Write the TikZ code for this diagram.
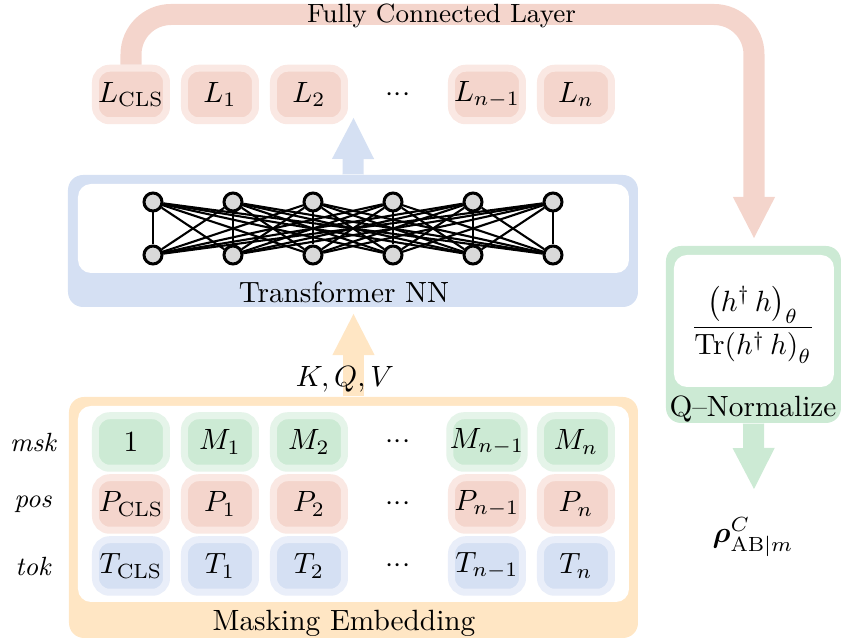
\documentclass[tikz,border=0pt]{standalone}
\usepackage{amsmath}
\usepackage{bm}
\usetikzlibrary{arrows.meta}
\newdimen\pxu
\pxu=0.3413pt
\definecolor{pinkD}{HTML}{F4D5CC}
\definecolor{pinkL}{HTML}{FAE8E3}
\definecolor{greenD}{HTML}{CCEAD4}
\definecolor{greenL}{HTML}{E5F4E9}
\definecolor{blueD}{HTML}{D5E0F3}
\definecolor{blueL}{HTML}{E9EEF9}
\definecolor{orangeD}{HTML}{FFE6C4}
\definecolor{nodegray}{HTML}{D9D9D9}
\newcommand{\tightdots}{\mathord{\cdot}\mathord{\cdot}\mathord{\cdot}}
\begin{document}
\begin{tikzpicture}[x=0.3413pt, y=-0.3413pt,
  tok/.style={rounded corners=14\pxu, line width=7\pxu, minimum width=71\pxu, minimum height=52.5\pxu, inner sep=0pt},
  ltok/.style={tok, draw=pinkL, fill=pinkD},
  gtok/.style={tok, draw=greenL, fill=greenD},
  btok/.style={tok, draw=blueL, fill=blueD},
  panel/.style={rounded corners=15\pxu, inner sep=0pt},
  fat/.style={line width=7.17pt, -{Triangle[width=14.4pt,length=14pt,line width=0pt]}},
  nn/.style={circle, draw=black, line width=3\pxu, fill=nodegray, minimum size=18\pxu, inner sep=0pt},
  nnedge/.style={line width=2.1\pxu},
  rowlab/.style={font=\small\itshape},
]
\useasboundingbox (0,0) rectangle (843,640);

% panels
\node[panel, fill=blueD, minimum width=570\pxu, minimum height=132\pxu] (tbox) at (353,241) {};
\node[panel, fill=white, minimum width=551\pxu, minimum height=89\pxu, rounded corners=13\pxu] (tin) at (353.5,228.5) {};
\node[anchor=base] (tlab) at (344,303) {Transformer NN};

\node[panel, fill=orangeD, minimum width=569\pxu, minimum height=241\pxu] (mbox) at (353.5,517.5) {};
\node[panel, fill=white, minimum width=551\pxu, minimum height=196\pxu, rounded corners=13\pxu] (min) at (353.5,504) {};
\node[anchor=base] (mlab) at (344,631) {Masking Embedding};

\node[panel, fill=greenD, minimum width=175\pxu, minimum height=177\pxu] (qbox) at (753.5,334.5) {};
\node[panel, fill=white, minimum width=160\pxu, minimum height=132\pxu, rounded corners=13\pxu] (qin) at (754,321) {};
\node[anchor=base] (qlab) at (753,417) {Q--Normalize};
\node[inner sep=0pt] (frac) at (753,325) {$\displaystyle\frac{\left(h^{\dagger}\,h\right)_{\theta}}{\mathrm{Tr}\!\left(h^{\dagger}\,h\right)_{\theta}}$};

% L row
\node[ltok] (lcls) at (131,94.5) {$L_{\mathrm{CLS}}$};
\node[ltok] (l1) at (220,94.5) {$L_1$};
\node[ltok] (l2) at (309,94.5) {$L_2$};
\node (ldots) at (398,94.5) {$\tightdots$};
\node[ltok] (lnm) at (487,94.5) {$L_{n-1}$};
\node[ltok] (ln) at (576,94.5) {$L_n$};

% network
\foreach \i/\x in {1/153,2/233,3/313,4/393,5/473,6/553}{
  \node[nn] (t\i) at (\x,202) {};
  \node[nn] (b\i) at (\x,255) {};
}
\foreach \i in {1,...,6}{
  \foreach \j in {1,...,6}{
    \draw[nnedge] (t\i) -- (b\j);
  }
}

% embedding grid
\node[rowlab] (rmsk) at (33,442) {msk};
\node[rowlab] (rpos) at (33,504) {pos};
\node[rowlab] (rtok) at (33,566) {tok};

\node[gtok] (m0) at (131,442) {$1$};
\node[gtok] (m1) at (220,442) {$M_1$};
\node[gtok] (m2) at (309,442) {$M_2$};
\node (mdots) at (398,442) {$\tightdots$};
\node[gtok] (mnm) at (487,442) {$M_{n-1}$};
\node[gtok] (mn) at (576,442) {$M_n$};

\node[ltok] (p0) at (131,504) {$P_{\mathrm{CLS}}$};
\node[ltok] (p1) at (220,504) {$P_1$};
\node[ltok] (p2) at (309,504) {$P_2$};
\node (pdots) at (398,504) {$\tightdots$};
\node[ltok] (pnm) at (487,504) {$P_{n-1}$};
\node[ltok] (pn) at (576,504) {$P_n$};

\node[btok] (k0) at (131,566) {$T_{\mathrm{CLS}}$};
\node[btok] (k1) at (220,566) {$T_1$};
\node[btok] (k2) at (309,566) {$T_2$};
\node (kdots) at (398,566) {$\tightdots$};
\node[btok] (knm) at (487,566) {$T_{n-1}$};
\node[btok] (kn) at (576,566) {$T_n$};

% arrows
\coordinate (bluetip) at (353.5,118);
\coordinate (orangetip) at (353.5,314);
\coordinate (greentip) at (754,489);
\coordinate (pinktip) at (754,238);
\coordinate (pinktop) at (442,14.5);

\draw[fat, draw=blueD] (tbox.north) -- (bluetip);
\draw[fat, draw=orangeD] (mbox.north) -- (orangetip);
\draw[fat, draw=greenD] (qbox.south) -- (greentip);
\draw[fat, draw=pinkD, rounded corners=40\pxu] (lcls.north) |- (pinktop) -| (pinktip);

\node[anchor=base, font=\small] (fcl) at (441.5,23) {Fully Connected Layer};
\node[anchor=base] (kqv) at (345,387) {$K,Q,V$};
\node (rho) at (753,537) {$\bm{\rho}^{C}_{\mathrm{AB}|m}$};
\end{tikzpicture}
\end{document}
